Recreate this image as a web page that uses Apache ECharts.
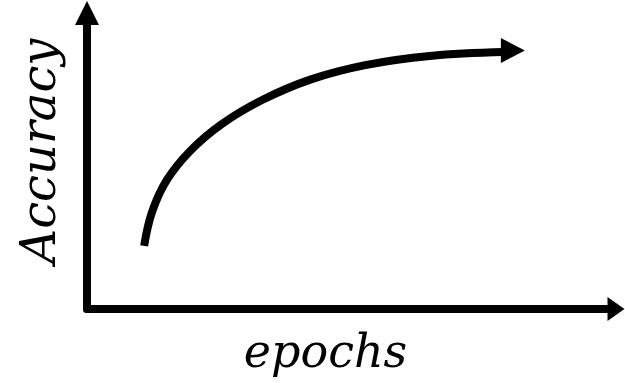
<!DOCTYPE html>
<html>
<head>
<meta charset="utf-8">
<script src="https://cdn.jsdelivr.net/npm/echarts@6/dist/echarts.min.js"></script>
<style>
  html, body { margin: 0; padding: 0; background: #fff; }
  #chart { width: 625px; height: 383px; }
</style>
</head>
<body>
<div id="chart"></div>
<script>
// 曲线数据（epochs -> accuracy，示意）
const epochs   = [10.8, 12.3, 15.1, 19.5, 25.5, 33.1, 42.2, 52.6, 64.8, 78.8];
const accuracy = [21.3, 32.8, 43.6, 53.4, 62.5, 70.6, 77.5, 82.4, 85.5, 86.8];
// 曲线末端箭头
const arrowHead = [80.5, 87.3];
const xName = "epochs";
const yName = "Accuracy";

let chart = echarts.init(document.getElementById("chart"));

const labelFont = {
  fontFamily: "DejaVu Serif",
  fontStyle: "italic",
  fontSize: 46,
  color: "#000"
};

chart.setOption({
  animation: false,
  grid: {
    left: 87,
    right: 9,
    top: 13,
    bottom: 74
  },
  xAxis: {
    type: "value",
    min: 0,
    max: 100,
    name: xName,
    nameLocation: "middle",
    nameGap: 23,
    nameTextStyle: Object.assign({ padding: [0, 52, 0, 0] }, labelFont),
    axisLine: {
      show: true,
      symbol: ["none", "triangle"],
      symbolSize: [24, 17],
      lineStyle: { color: "#000", width: 8 }
    },
    axisTick: { show: false },
    axisLabel: { show: false },
    splitLine: { show: false }
  },
  yAxis: {
    type: "value",
    min: 0,
    max: 100,
    name: yName,
    nameLocation: "middle",
    nameRotate: 90,
    nameGap: 20,
    nameTextStyle: Object.assign({}, labelFont, { fontSize: 48, padding: [0, 0, 0, 20] }),
    axisLine: {
      show: true,
      symbol: ["none", "triangle"],
      symbolSize: [24, 24],
      lineStyle: { color: "#000", width: 8 }
    },
    axisTick: { show: false },
    axisLabel: { show: false },
    splitLine: { show: false }
  },
  series: [
    {
      type: "line",
      smooth: 0.4,
      symbol: "none",
      data: epochs.map((x, i) => [x, accuracy[i]]),
      lineStyle: { color: "#000", width: 8 }
    },
    {
      type: "scatter",
      symbol: "triangle",
      symbolSize: [25, 24],
      symbolRotate: -90,
      data: [arrowHead],
      itemStyle: { color: "#000", opacity: 1 }
    }
  ]
});
</script>
</body>
</html>
